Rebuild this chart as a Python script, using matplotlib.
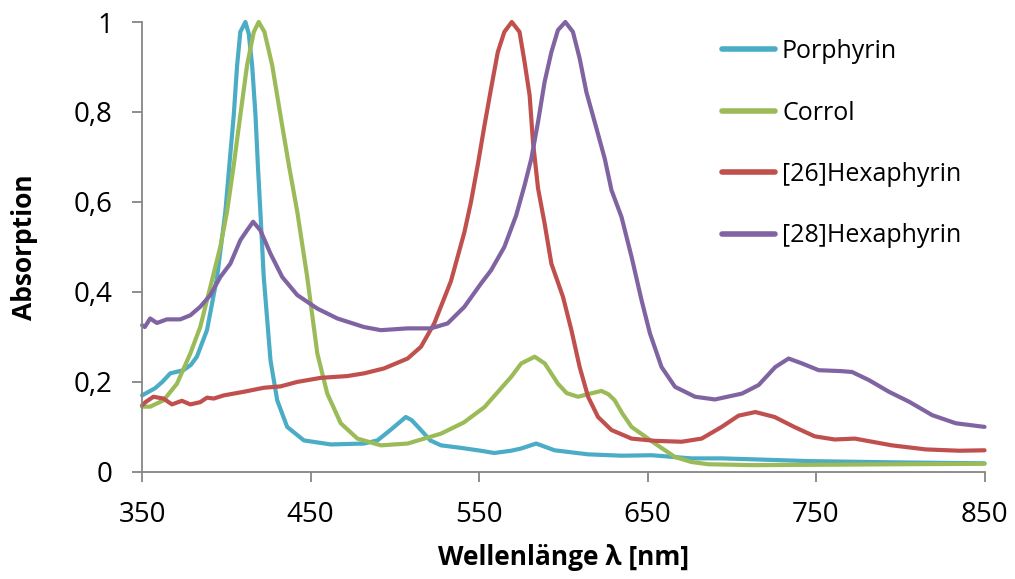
import matplotlib
matplotlib.use("Agg")
import matplotlib.pyplot as plt
from matplotlib.ticker import FuncFormatter

plt.rcParams['font.family'] = ['Open Sans', 'DejaVu Sans']

# Porphyrin (blue)
por_x = [350, 357.7, 362, 366.7, 374.5, 379, 382.5, 388.5, 394.5, 399.4, 401.8, 404.4, 406.4, 408.3,
         411.3, 413.3, 415.3, 417.3, 418.7, 420.2, 422.2, 426.2, 430.2, 436.1, 446, 462, 481.7,
         489.7, 498, 506.5, 510, 515.5, 521, 527.4, 540, 551, 559, 569, 575, 583.9, 594.8, 614.7,
         634.5, 652.4, 676, 694, 711.9, 745.6, 800, 850]
por_y = [0.170, 0.186, 0.200, 0.219, 0.226, 0.238, 0.256, 0.315, 0.433, 0.578, 0.682, 0.793, 0.904,
         0.978, 1.0, 0.974, 0.904, 0.793, 0.682, 0.578, 0.433, 0.248, 0.159, 0.100, 0.070, 0.061,
         0.063, 0.070, 0.095, 0.122, 0.115, 0.093, 0.070, 0.059, 0.053, 0.047, 0.042, 0.047, 0.052,
         0.063, 0.048, 0.039, 0.036, 0.037, 0.030, 0.030, 0.028, 0.024, 0.021, 0.019]

# Corrol (green)
cor_x = [350, 354.8, 362.7, 370.7, 378.6, 384.5, 390.5, 396.4, 400.4, 404.4, 408.3, 412.3, 416.3,
         419.2, 422.6, 427.2, 432.1, 437.1, 442.1, 448, 454, 459.9, 467.9, 477.8, 491.7, 507.6,
         527.4, 541, 553.2, 569, 575, 583, 589, 596.8, 602, 608.7, 616, 622.6, 627, 630.5, 635,
         640.5, 654.4, 666.3, 676, 686, 712, 760, 800, 850]
cor_y = [0.145, 0.145, 0.159, 0.196, 0.263, 0.322, 0.411, 0.500, 0.578, 0.682, 0.793, 0.904, 0.978,
         1.0, 0.978, 0.904, 0.793, 0.682, 0.578, 0.433, 0.263, 0.174, 0.108, 0.074, 0.059, 0.063,
         0.085, 0.110, 0.144, 0.211, 0.241, 0.256, 0.241, 0.196, 0.175, 0.167, 0.174, 0.180, 0.172,
         0.159, 0.130, 0.100, 0.063, 0.033, 0.022, 0.017, 0.015, 0.016, 0.017, 0.018]

# [26]Hexaphyrin (red)
h26_x = [350, 352, 356.7, 362.7, 367.7, 373.6, 378.6, 384.5, 388.5, 392.5, 398.4, 410.3, 422.2,
         432.1, 442.1, 456, 471.8, 481.7, 493.6, 507.6, 515.5, 523.4, 533.3, 541.3, 545.2, 549.2,
         553.2, 557.1, 561.1, 565, 569.4, 574, 577, 580, 582, 585, 588.9, 592.9, 599.8, 604.8,
         609.7, 614.7, 620.6, 628.6, 640.5, 654.4, 670.2, 682.1, 694, 704, 714, 725.4, 737, 749.2,
         761.1, 773, 795, 815, 835, 850]
h26_y = [0.148, 0.155, 0.167, 0.163, 0.150, 0.158, 0.150, 0.155, 0.165, 0.163, 0.170, 0.178, 0.187,
         0.190, 0.200, 0.209, 0.213, 0.219, 0.230, 0.252, 0.278, 0.330, 0.424, 0.533, 0.600, 0.682,
         0.770, 0.852, 0.933, 0.978, 1.0, 0.978, 0.911, 0.837, 0.733, 0.630, 0.552, 0.463, 0.389,
         0.315, 0.233, 0.167, 0.122, 0.093, 0.074, 0.069, 0.067, 0.074, 0.100, 0.125, 0.133, 0.122,
         0.100, 0.079, 0.072, 0.074, 0.059, 0.050, 0.047, 0.048]

# [28]Hexaphyrin (purple)
h28_x = [350, 351.6, 354.8, 358.8, 364.7, 372.6, 378.6, 384.5, 390.5, 396.4, 402.4, 408.3, 412.3,
         415.9, 420.2, 426.2, 433.2, 442.1, 454, 465.9, 481.7, 491.7, 507.6, 521.4, 531.3, 541.3,
         551.2, 557.1, 565, 572, 577, 581, 585, 588.9, 592.9, 596.8, 601.2, 605.7, 609.7, 613.7,
         618.6, 624.6, 628.6, 634.5, 640.5, 646.4, 651.4, 658.3, 666.3, 678.2, 690, 706, 715.9,
         725.8, 733.7, 741.7, 751.6, 765, 771.4, 781.4, 793.3, 805.2, 819, 833, 850]
h28_y = [0.326, 0.322, 0.341, 0.331, 0.339, 0.339, 0.348, 0.367, 0.393, 0.433, 0.463, 0.515, 0.537,
         0.556, 0.537, 0.485, 0.433, 0.393, 0.363, 0.341, 0.322, 0.315, 0.319, 0.319, 0.330, 0.367,
         0.419, 0.448, 0.500, 0.570, 0.637, 0.696, 0.778, 0.867, 0.933, 0.982, 1.0, 0.978, 0.919,
         0.844, 0.778, 0.696, 0.626, 0.567, 0.478, 0.382, 0.308, 0.233, 0.189, 0.167, 0.161, 0.174,
         0.193, 0.233, 0.252, 0.241, 0.226, 0.224, 0.222, 0.204, 0.178, 0.156, 0.126, 0.108, 0.100]

labels = ['Porphyrin', 'Corrol', '[26]Hexaphyrin', '[28]Hexaphyrin']
colors = ['#4BACC6', '#9BBB59', '#C0504D', '#8064A2']
x_ticks = [350, 450, 550, 650, 750, 850]
y_ticks = [0, 0.2, 0.4, 0.6, 0.8, 1.0]

fig = plt.figure(figsize=(10.15, 5.79), dpi=100)
ax = fig.add_axes([0.140, 0.185, 0.830, 0.777])

series = [(por_x, por_y), (cor_x, cor_y), (h26_x, h26_y), (h28_x, h28_y)]
for (xs, ys), lab, col in zip(series, labels, colors):
    ax.plot(xs, ys, color=col, lw=3, label=lab, clip_on=False,
            solid_capstyle='round', solid_joinstyle='round')

ax.set_xlim(350, 850)
ax.set_ylim(0, 1)
ax.set_xticks(x_ticks)
ax.set_yticks(y_ticks)
ax.yaxis.set_major_formatter(FuncFormatter(lambda v, p: ('%g' % round(v, 1)).replace('.', ',')))

for s in ['top', 'right']:
    ax.spines[s].set_visible(False)
for s in ['left', 'bottom']:
    ax.spines[s].set_color('#868686')
    ax.spines[s].set_linewidth(1.3)
ax.tick_params(axis='both', colors='#868686', length=7, width=1.3, labelsize=20, labelcolor='black')
ax.tick_params(axis='y', pad=14)
ax.tick_params(axis='x', pad=14)

ax.set_xlabel('Wellenlänge λ [nm]', fontsize=19, fontweight='bold')
ax.set_ylabel('Absorption', fontsize=19, fontweight='bold')
ax.xaxis.set_label_coords(0.5, -0.19)
ax.xaxis.label.set_va('center')
ax.yaxis.set_label_coords(-0.139, 0.5)
ax.yaxis.label.set_va('center')

leg = ax.legend(loc='upper left', bbox_to_anchor=(712 / 1015, 1 - 29 / 579),
                bbox_transform=fig.transFigure, frameon=False, fontsize=18,
                handlelength=2.1, handletextpad=0.3, labelspacing=1.46, borderaxespad=0)
for h in leg.get_lines():
    h.set_linewidth(4)

fig.savefig('out.png', dpi=100)
